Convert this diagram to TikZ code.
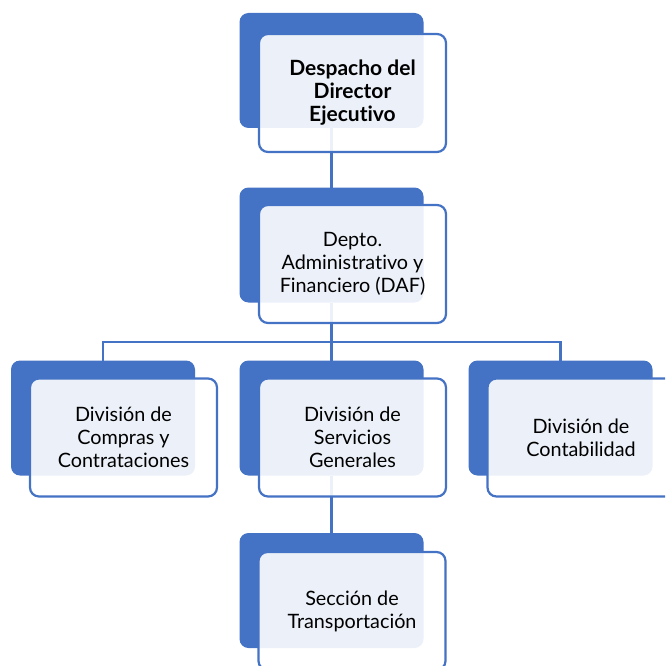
\documentclass[tikz,border=0pt]{standalone}
\usepackage{fontspec}
\setmainfont{Lato}[Ligatures={NoCommon,NoRare,NoDiscretionary}]
\definecolor{accent}{HTML}{4472C4}
\begin{document}
\begin{tikzpicture}[x=1pt,y=-1pt,
  darkbox/.style={fill=accent,draw=none,rounded corners=9pt,minimum width=184pt,minimum height=115pt,inner sep=0pt,outer sep=0pt},
  lightbox/.style={fill=white,fill opacity=0.9,text opacity=1,draw=accent,line width=2.2pt,rounded corners=9pt,minimum width=187pt,minimum height=118pt,inner sep=0pt,outer sep=0pt,align=center,font=\fontsize{19.8}{22.8}\selectfont},
  boldbox/.style={lightbox,font=\fontsize{21}{23}\selectfont\bfseries},
  link/.style={draw=accent,line width=2.4pt}]
\clip (0,0) rectangle (665,666);
\useasboundingbox (0,0) rectangle (665,666);
% dark back boxes
\node[darkbox] (d1) at (331.5,70.5) {};
\node[darkbox] (d2) at (331.5,245) {};
\node[darkbox] (d3a) at (103,418) {};
\node[darkbox] (d3b) at (331.5,418) {};
\node[darkbox] (d3c) at (560.5,418) {};
\node[darkbox] (d4) at (331.5,590.5) {};
% connectors
\coordinate (bus) at (331.5,342);
\draw[link] (d1.south) -- (d2.north);
\draw[link] (d2.south) -- (bus);
\draw[link] (d3a.north) |- (bus) -| (d3c.north);
\draw[link] (bus) -- (d3b.north);
\draw[link] (d3b.south) -- (d4.north);
% light front boxes
\node[boldbox] (l1) at (352.5,93) {Despacho del\\Director\\Ejecutivo};
\node[lightbox] (l2) at (352.5,264) {Depto.\\Administrativo y\\Financiero (DAF)};
\node[lightbox] (l3a) at (123.5,437.5) {División de\\Compras y\\Contrataciones};
\node[lightbox] (l3b) at (352.5,437.5) {División de\\Servicios\\Generales};
\node[lightbox] (l3c) at (581,437.5) {División de\\Contabilidad};
\node[lightbox] (l4) at (352,611) {Sección de\\Transportación};
\end{tikzpicture}
\end{document}
